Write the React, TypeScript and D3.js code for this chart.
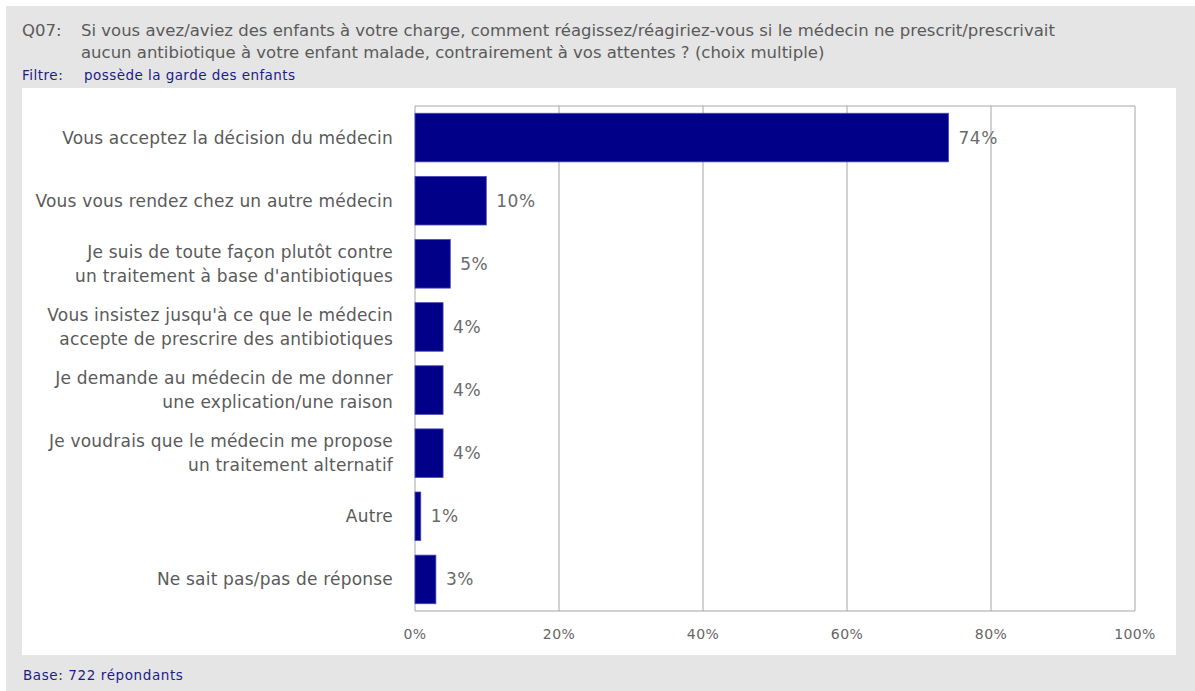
import React from "react";
import * as d3 from "d3";

const categories = [
  "Vous acceptez la décision du médecin",
  "Vous vous rendez chez un autre médecin",
  "Je suis de toute façon plutôt contre\nun traitement à base d'antibiotiques",
  "Vous insistez jusqu'à ce que le médecin\naccepte de prescrire des antibiotiques",
  "Je demande au médecin de me donner\nune explication/une raison",
  "Je voudrais que le médecin me propose\nun traitement alternatif",
  "Autre",
  "Ne sait pas/pas de réponse",
];
const values = [74.1, 9.9, 4.9, 3.9, 3.9, 3.9, 0.8, 2.9];
const ticks = [0, 20, 40, 60, 80, 100];
const titleLines = [
  "Si vous avez/aviez des enfants à votre charge, comment réagissez/réagiriez-vous si le médecin ne prescrit/prescrivait",
  "aucun antibiotique à votre enfant malade, contrairement à vos attentes ? (choix multiple)",
];
const questionId = "Q07:";
const filterLabel = "Filtre:";
const filterText = "possède la garde des enfants";
const baseText = "Base: 722 répondants";

const W = 1195;
const H = 691;
const FONT = "'DejaVu Sans', Verdana, sans-serif";

export default function App() {
  const x = d3.scaleLinear().domain([0, 100]).range([415, 1135]);
  const y = d3
    .scaleBand<string>()
    .domain(categories)
    .range([106, 611])
    .paddingInner(0.23)
    .paddingOuter(0.115);
  const gray = "#5a5a5a";
  const navy = "#1c1c8a";
  return (
    <svg
      width={W}
      height={H}
      style={{ position: "absolute", left: 0, top: 0, background: "#fff" }}
      fontFamily={FONT}
    >
      <rect x={6} y={6} width={W - 6} height={H - 6} fill="#e5e5e5" />
      <rect x={22} y={88} width={1154} height={567} fill="#fff" />
      <text x={22} y={36} fontSize={16.5} fill={gray}>{questionId}</text>
      {titleLines.map((t, i) => (
        <text key={i} x={81} y={36 + i * 22} fontSize={16.5} fill={gray}>{t}</text>
      ))}
      <text x={22} y={80} fontSize={13.5} letterSpacing={0.5} fill={navy}>{filterLabel}</text>
      <text x={84} y={80} fontSize={13.5} letterSpacing={0.45} fill={navy}>{filterText}</text>
      <text x={23} y={680} fontSize={13.5} letterSpacing={0.6} fill={navy}>{baseText}</text>

      {ticks.map((t) => (
        <line key={t} x1={x(t)} x2={x(t)} y1={106} y2={611} stroke="#a6a6a6" strokeWidth={1} />
      ))}
      <line x1={x(0)} x2={x(100)} y1={106} y2={106} stroke="#a6a6a6" />
      <line x1={x(0)} x2={x(100)} y1={611} y2={611} stroke="#a6a6a6" />
      {ticks.map((t) => (
        <text key={t} x={x(t)} y={634} fontSize={14} letterSpacing={0.4} fill="#666" textAnchor="middle" dominantBaseline="central">
          {t}%
        </text>
      ))}

      {categories.map((c, i) => {
        const yc = (y(c) as number) + y.bandwidth() / 2;
        const lines = c.split("\n");
        return (
          <g key={c}>
            <rect
              x={x(0)}
              y={y(c)}
              width={x(values[i]) - x(0)}
              height={y.bandwidth()}
              fill="#000088"
              stroke="#4a4ab8"
              strokeWidth={0.8}
            />
            <text x={x(values[i]) + 10} y={yc} fontSize={17} letterSpacing={0.5} fill="#6a6a6a" dominantBaseline="central">
              {Math.round(values[i])}%
            </text>
            {lines.map((l, j) => (
              <text
                key={j}
                x={393}
                y={yc + (j - (lines.length - 1) / 2) * 24}
                fontSize={17}
                letterSpacing={0.2}
                fill={gray}
                textAnchor="end"
                dominantBaseline="central"
              >
                {l}
              </text>
            ))}
          </g>
        );
      })}
    </svg>
  );
}
